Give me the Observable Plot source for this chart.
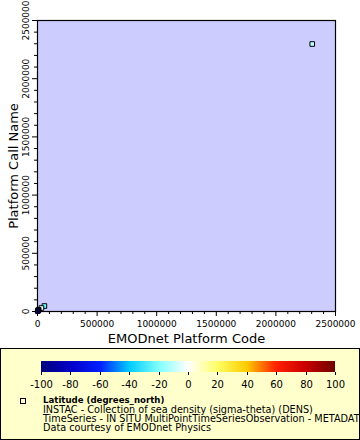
<!DOCTYPE html>
<html><head><meta charset="utf-8">
<script src="https://cdn.jsdelivr.net/npm/d3@7"></script>
<script src="https://cdn.jsdelivr.net/npm/@observablehq/plot@0.6"></script>
<style>
body{margin:0;background:#fff;font-family:"DejaVu Sans",sans-serif;}
#chart svg{display:block}
#legend{position:relative;box-sizing:border-box;width:360px;height:92px;background:#ffffcc;border:1px solid #000;overflow:hidden;}
#legend svg{display:block;position:absolute;left:0;top:0;}
#marker{position:absolute;left:19px;top:49px;width:4px;height:4px;border:1px solid #000;background:#ffffcc;}
#ltext{position:absolute;left:42px;top:46px;font-size:9.7px;line-height:9px;white-space:nowrap;color:#000;}
#ltext b{font-weight:bold;font-size:8.6px;}
</style></head><body>
<div id="chart"></div>
<div id="legend"><div id="marker"></div><div id="ltext"></div></div>
<script>
// data
const platformCode = [2305000, 58000, 33000, 10000, 5000, 2000];
const callName     = [2298000, 47000, 30000, 14000, 8000, 4000];
const latitude     = [-10, -22, -4, -60, -90, -100];
const xTicks = [0, 500000, 1000000, 1500000, 2000000, 2500000];
const yTicks = [0, 500000, 1000000, 1500000, 2000000, 2500000];
const minorTicks = [100000,200000,300000,400000,600000,700000,800000,900000,1100000,1200000,1300000,1400000,1600000,1700000,1800000,1900000,2100000,2200000,2300000,2400000];
const colorStops = [-100, -80, -60, -40, -20, 0, 20, 40, 60, 80, 100];
const colorRange = ["#000080","#0000c8","#0020ff","#00ccff","#80ffff","#ffffff","#ffff66","#ffcc00","#ff2200","#cc0000","#700000"];
const colorTicks = [-100, -80, -60, -40, -20, 0, 20, 40, 60, 80, 100];
const xTitle = "EMODnet Platform Code";
const yTitle = "Platform Call Name";
const legendLines = ["INSTAC - Collection of sea density (sigma-theta) (DENS)",
  "TimeSeries - IN SITU MultiPointTimeSeriesObservation - METADATA",
  "Data courtesy of EMODnet Physics"];
const legendTitle = "Latitude (degrees_north)";

const data = platformCode.map((x, i) => ({x, y: callName[i], lat: latitude[i]}));
const colorScale = {type: "linear", domain: colorStops, range: colorRange, clamp: true};

const chart = Plot.plot({
  width: 360, height: 348,
  marginLeft: 37, marginRight: 25, marginTop: 20, marginBottom: 37,
  style: {fontFamily: "DejaVu Sans", fontSize: "9px", background: "transparent", color: "#000"},
  x: {domain: [0, 2500000]},
  y: {domain: [0, 2500000]},
  color: colorScale,
  marks: [
    Plot.frame({fill: "#ccccff"}),
    Plot.axisX(minorTicks, {tickSize: 3, tickFormat: () => "", label: null}),
    Plot.axisX(xTicks, {tickSize: 5, tickFormat: d => String(d), label: null}),
    Plot.axisY(minorTicks, {tickSize: 3, tickFormat: () => "", label: null}),
    Plot.axisY(yTicks, {tickSize: 5, tickRotate: -90, tickFormat: d => String(d), label: null}),
    Plot.dot(data, {x: "x", y: "y", symbol: "square", r: 2.6, fill: "lat", stroke: "black", strokeWidth: 1}),
    Plot.frame({stroke: "black", strokeWidth: 1.2}),
    Plot.text([xTitle], {frameAnchor: "bottom", dy: 31, fontSize: 13}),
    Plot.text([yTitle], {frameAnchor: "left", dx: -24, rotate: -90, textAnchor: "middle", fontSize: 13})
  ]
});
d3.select(chart).selectAll("text").filter(function() { return this.textContent === ""; }).remove();
document.getElementById("chart").appendChild(chart);

const leg = Plot.legend({
  color: colorScale,
  legend: "ramp",
  width: 358, height: 42,
  marginTop: 12, marginBottom: 19, marginLeft: 40, marginRight: 24,
  tickSize: 3,
  ticks: colorTicks,
  tickFormat: d => String(d),
  style: {fontFamily: "DejaVu Sans", fontSize: "10px", background: "transparent", color: "#000"}
});
document.getElementById("legend").appendChild(leg);
d3.select(leg).selectAll(".tick line").attr("y1", 0);
d3.select(leg).selectAll(".tick text").attr("y", 9);

const lt = document.getElementById("ltext");
lt.innerHTML = "<b>" + legendTitle + "</b><br>" + legendLines.join("<br>");
</script>
</body></html>
